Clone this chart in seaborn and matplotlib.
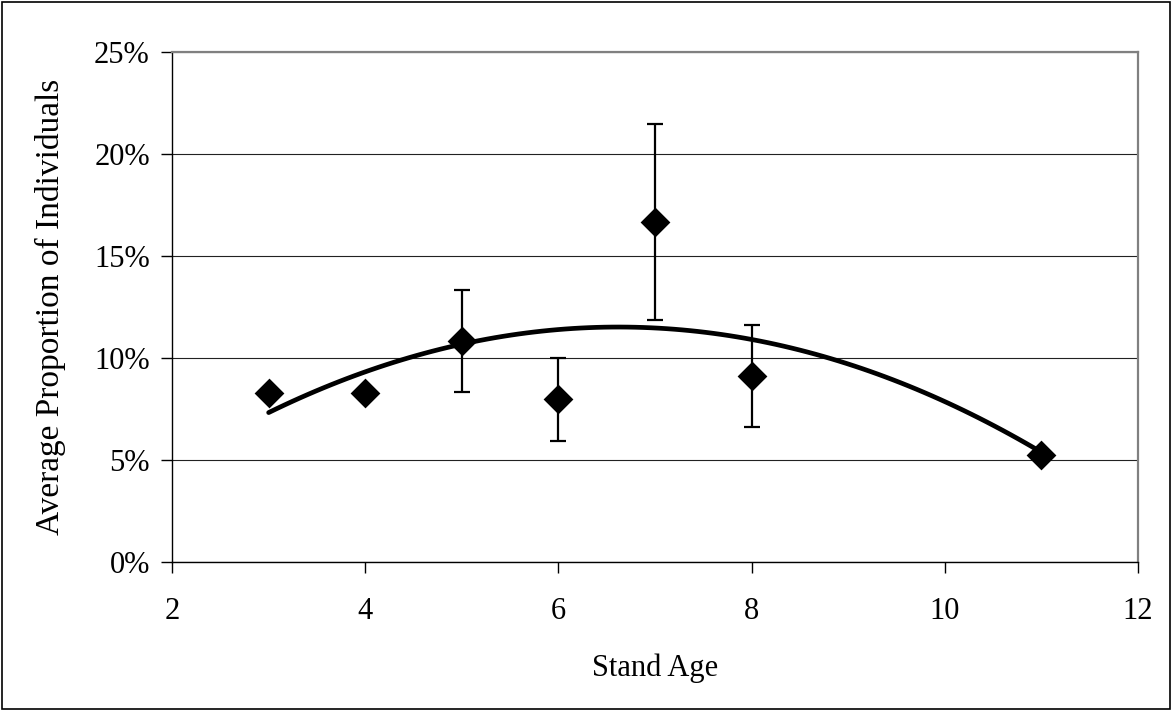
import matplotlib
matplotlib.use("Agg")
import matplotlib.pyplot as plt
import seaborn as sns
import numpy as np
import pandas as pd
from matplotlib.ticker import PercentFormatter
from matplotlib.patches import Rectangle

# ---- data ----
stand_age = [3, 4, 5, 6, 7, 8, 11]
avg_proportion = [0.083, 0.083, 0.1083, 0.0797, 0.1668, 0.0912, 0.0526]
err_ages = [5, 6, 7, 8]
err_means = [0.1083, 0.0797, 0.1668, 0.0912]
err_sizes = [0.0248, 0.0205, 0.0481, 0.0250]
x_ticks = [2, 4, 6, 8, 10, 12]
y_ticks = [0.0, 0.05, 0.10, 0.15, 0.20, 0.25]

df = pd.DataFrame({"Stand Age": stand_age, "Proportion": avg_proportion})

sns.set_style("white")
plt.rcParams["font.family"] = ["Liberation Serif", "DejaVu Serif"]
plt.rcParams["text.color"] = "black"
plt.rcParams["axes.labelcolor"] = "black"
plt.rcParams["xtick.color"] = "black"
plt.rcParams["ytick.color"] = "black"

fig = plt.figure(figsize=(11.72, 7.11), dpi=100)
ax = fig.add_axes([0.1468, 0.2096, 0.971 - 0.1468, 0.927 - 0.2096])

# gridlines
ax.set_axisbelow(True)
ax.yaxis.grid(True, color="#222222", linewidth=0.8)
ax.xaxis.grid(False)

# error bars
ax.errorbar(err_ages, err_means, yerr=err_sizes, fmt="none", ecolor="black",
            elinewidth=1.6, capsize=5.5, capthick=1.6, zorder=3)

# trend line (2nd-order polynomial fit)
sns.regplot(data=df, x="Stand Age", y="Proportion", order=2, ci=None,
            scatter=False, truncate=True, ax=ax,
            line_kws={"color": "black", "linewidth": 3.4,
                      "solid_capstyle": "round", "zorder": 4})

# points
sns.scatterplot(data=df, x="Stand Age", y="Proportion", marker="D", s=230,
                color="black", edgecolor="black", linewidth=0, ax=ax, zorder=5)

ax.set_xlim(2, 12)
ax.set_ylim(0, 0.25)
ax.set_xticks(x_ticks)
ax.set_yticks(y_ticks)
ax.yaxis.set_major_formatter(PercentFormatter(1.0, decimals=0))

ax.tick_params(axis="both", which="major", labelsize=22, direction="out",
               length=8, width=1, color="black", labelcolor="black",
               left=True, bottom=True)
ax.tick_params(axis="x", pad=17)
ax.tick_params(axis="y", pad=8)

ax.set_xlabel("Stand Age", fontsize=22, labelpad=20, color="black")
ax.set_ylabel("Average Proportion of Individuals", fontsize=24, labelpad=20,
              color="black")

for s in ["left", "bottom"]:
    ax.spines[s].set_color("black")
    ax.spines[s].set_linewidth(1.0)
for s in ["top", "right"]:
    ax.spines[s].set_color("#808080")
    ax.spines[s].set_linewidth(1.6)

# outer chart border
fig.patches.append(Rectangle((0.002, 0.003), 0.996, 0.994, transform=fig.transFigure,
                             fill=False, edgecolor="black", linewidth=1.2))

fig.savefig("out.png", dpi=100)
